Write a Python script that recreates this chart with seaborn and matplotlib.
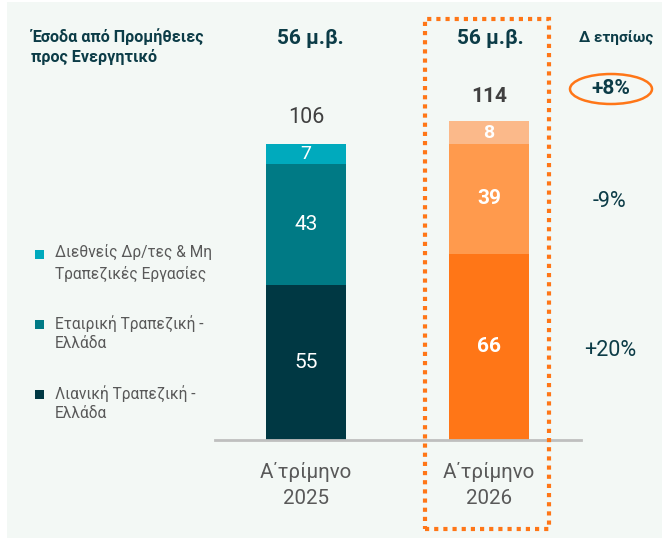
import matplotlib
matplotlib.use("Agg")
import matplotlib.pyplot as plt
from matplotlib.patches import Rectangle, Ellipse
import seaborn as sns
import pandas as pd

# ---- data ----
categories = ["Α΄τρίμηνο\n2025", "Α΄τρίμηνο\n2026"]
segments = ["Λιανική Τραπεζική -\nΕλλάδα", "Εταιρική Τραπεζική -\nΕλλάδα",
            "Διεθνείς Δρ/τες & Μη\nΤραπεζικές Εργασίες"]
retail = [55, 66]
corporate = [43, 39]
international = [7, 8]
totals = [106, 114]
header_values = ["56 μ.β.", "56 μ.β."]
yoy_labels = ["+20%", "-9%", "+8%"]
title = "Έσοδα από Προμήθειες\nπρος Ενεργητικό"
yoy_title = "Δ ετησίως"

colors_2025 = ["#003843", "#007A85", "#00AABD"]
colors_2026 = ["#FF7617", "#FF9A4D", "#FBB98A"]
dark = "#0C3C47"
gray = "#595959"

sns.set_theme(style="white")
plt.rcParams["font.family"] = ["Roboto", "DejaVu Sans"]

W, H = 662, 538
fig = plt.figure(figsize=(W / 100, H / 100), dpi=100, facecolor="white")

def fx(x):
    return x / W

def fy(y):
    return 1 - y / H

# panel background
fig.patches.append(Rectangle((fx(7), 0), 1 - fx(7), fy(2), transform=fig.transFigure,
                             facecolor="#F3F8F5", edgecolor="none", zorder=-5))

# axes: baseline at y=440, scale ~2.82 px per unit
ax_left, ax_right = 214.5, 580.5
ymax = 150
ppu = 2.82
ax_h = ymax * ppu
ax = fig.add_axes([fx(ax_left), fy(440), fx(ax_right - ax_left), ax_h / H])
ax.set_facecolor("none")
ax.set_zorder(1)

layers = [retail, corporate, international]
palettes = [colors_2025, colors_2026]
for ci, cat in enumerate(categories):
    bottom = 0
    for li, layer in enumerate(layers):
        df = pd.DataFrame({"cat": [cat], "val": [layer[ci]]})
        sns.barplot(data=df, x="cat", y="val", order=categories, color=palettes[ci][li],
                    saturation=1, width=0.437, bottom=bottom, ax=ax, linewidth=0)
        bottom += layer[ci]

ax.set_xlim(-0.5, 1.5)
ax.set_ylim(0, ymax)
for s in ["top", "right", "left"]:
    ax.spines[s].set_visible(False)
ax.spines["bottom"].set_color("#BFBFBF")
ax.spines["bottom"].set_linewidth(2)
ax.set_yticks([])
ax.set_xlabel("")
ax.set_ylabel("")
ax.tick_params(axis="x", length=0, pad=16)
ax.set_xticks(range(len(categories)))
ax.set_xticklabels(categories, fontsize=14.8, color=gray, linespacing=1.45)

# segment labels
for ci in range(len(categories)):
    bottom = 0
    for li, layer in enumerate(layers):
        v = layer[ci]
        ax.text(ci, bottom + v / 2, str(v), ha="center", va="center", color="white",
                fontsize=14 if li == 2 else 15,
                fontweight="bold" if ci == 1 else "normal")
        bottom += v
# totals
ax.text(0, totals[0] + 8.2, str(totals[0]), ha="center", va="center", fontsize=15.5,
        color="#404040")
ax.text(1, totals[1] + 7.8, str(totals[1]), ha="center", va="center", fontsize=15,
        color="#404040", fontweight="bold")

# yoy on the right
ax.text(1.66, retail[1] / 2 - 1.4, yoy_labels[0], ha="center", va="center", fontsize=15.5,
        color=dark, clip_on=False)
ax.text(1.66, retail[1] + corporate[1] / 2 - 0.8, yoy_labels[1], ha="center", va="center",
        fontsize=15.5, color=dark, clip_on=False)

# header texts
fig.text(fx(31), fy(47), title, ha="left", va="center", fontsize=11.6, fontweight="bold",
         color=dark, linespacing=1.3)
for ci, hv in enumerate(header_values):
    fig.text(fx(310 + ci * 180), fy(38), hv, ha="center", va="center", fontsize=15,
             fontweight="bold", color=dark)
fig.text(fx(616), fy(38), yoy_title, ha="center", va="center", fontsize=11,
         fontweight="bold", color=dark)
fig.text(fx(611), fy(89), yoy_labels[2], ha="center", va="center", fontsize=15,
         fontweight="bold", color=dark)
fig.patches.append(Ellipse((fx(611), fy(89)), fx(82), 30 / H, transform=fig.transFigure,
                           facecolor="none", edgecolor="#FF7617", linewidth=1.8, zorder=3))

# dotted highlight box
fig.patches.append(Rectangle((fx(425), fy(529)), fx(124), (529 - 19) / H,
                             transform=fig.transFigure, facecolor="none", zorder=3,
                             edgecolor="#FF7617", linewidth=3, linestyle=(0, (1, 1.2))))

# legend
legend_items = [(segments[2], colors_2025[2], 263), (segments[1], colors_2025[1], 333),
                (segments[0], colors_2025[0], 403)]
for label, col, yc in legend_items:
    fig.patches.append(Rectangle((fx(35), fy(yc - 4.5)), fx(9), 9 / H,
                                 transform=fig.transFigure, facecolor=col,
                                 edgecolor="none", zorder=3))
    fig.text(fx(55), fy(yc), label, ha="left", va="center", fontsize=11.2,
             color=gray, linespacing=1.4)

fig.savefig("out.png", dpi=100, facecolor="white")
